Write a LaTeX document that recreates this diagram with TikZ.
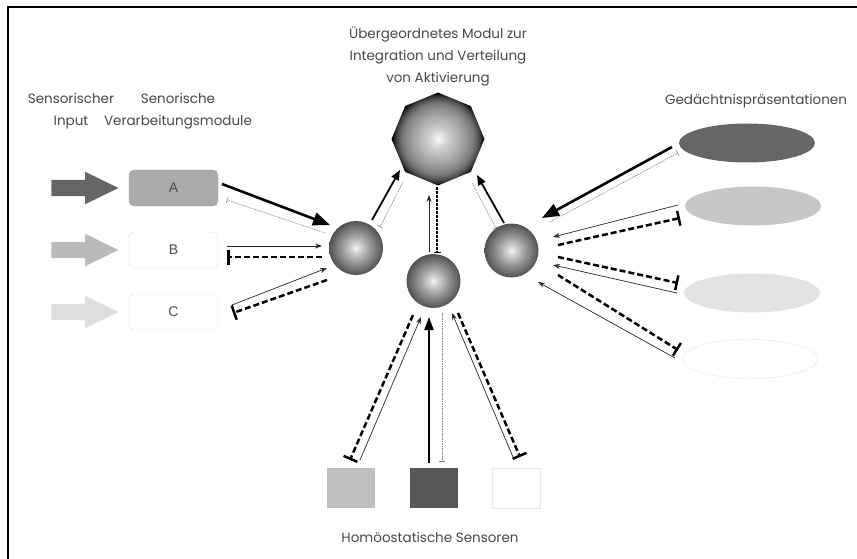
\documentclass[tikz,border=0pt]{standalone}
\usepackage{fontspec}
\setmainfont{Poppins}
\newfontfamily\boxfont{Liberation Sans}
\usepackage{tikz}
\usetikzlibrary{shapes,shapes.geometric,shapes.arrows,arrows.meta,calc}
\pgfdeclareradialshading{sphshade}{\pgfpoint{0bp}{0bp}}{color(0bp)=(black!3); color(3bp)=(black!14); color(13bp)=(black!40); color(25bp)=(black!68); color(50bp)=(black!68)}
\pgfdeclareradialshading{octshade}{\pgfpoint{0bp}{0bp}}{color(0bp)=(black!2); color(5bp)=(black!18); color(14bp)=(black!38); color(19bp)=(black!52); color(22bp)=(black!70); color(25bp)=(black); color(50bp)=(black)}
\tikzset{
  sph/.style={ circle, minimum size=54pt, inner sep=0pt, shading=sphshade }
}
\tikzset{
  octmod/.style={ regular polygon, regular polygon sides=8, shape border rotate=22.5, minimum size=93pt, inner sep=0pt, shading=octshade }
}
\tikzset{
  boxmod/.style={ draw, rounded corners=5pt, minimum width=89pt, minimum height=36pt, inner sep=0pt, font=\boxfont\fontsize{14}{16}\selectfont, text=black!70 }
}
\tikzset{
  ellmem/.style={ ellipse, minimum width=136pt, minimum height=39pt, inner sep=0pt }
}
\tikzset{
  sqsens/.style={ minimum width=48pt, minimum height=40pt, inner sep=0pt }
}
\tikzset{
  bigarr/.style={ single arrow, minimum height=67pt, minimum width=0pt, inner xsep=0pt, inner ysep=8pt, single arrow head extend=8pt, single arrow tip angle=52 }
}
\tikzset{
  lbl/.style={ align=center, text=black!72, font=\fontsize{13.5}{22}\selectfont }
}
% connector styles
\tikzset{
  exc/.style={ black!85, line width=0.7pt, -{Stealth[length=7pt,width=5pt]} },
  excmid/.style={ black, line width=1.8pt, -{Triangle[length=10pt,width=8pt]} },
  excbig/.style={ black, line width=2.6pt, -{Triangle[length=17pt,width=13pt]} },
  inh/.style={ black, line width=2.5pt, dash pattern=on 6pt off 3pt, -{Bar[width=15pt]} },
  inhthin/.style={ black!50, line width=0.6pt, dash pattern=on 1.5pt off 1pt, -{Bar[width=6pt]} }
}

\begin{document}
\begin{tikzpicture}[x=1pt, y=-1pt]
      \useasboundingbox (0,0) rectangle (857,559);
      \draw[line width=2.5pt] (8,559) -- (8,7) -- (857,7);

      % labels
      \node[lbl] (tOct) at (438, 56) {Übergeordnetes Modul zur\\Integration und Verteilung\\von Aktivierung};
      \node[lbl] (tIn) at (71, 111) {Sensorischer\\Input};
      \node[lbl] (tMod) at (178, 111) {Senorische\\Verarbeitungsmodule};
      \node[lbl] (tMem) at (756, 101) {Gedächtnispräsentationen};
      \node[lbl] (tSens) at (430, 537) {Homöostatische Sensoren};

      % sensory input
      \node[bigarr, fill=black!60] (inA) at (76.5, 188) {};
      \node[bigarr, fill=black!27] (inB) at (76.5, 250) {};
      \node[bigarr, fill=black!13] (inC) at (76.5, 312) {};
      \node[boxmod, fill=black!33, draw=black!33] (boxA) at (173.5, 188) {A};
      \node[boxmod, fill=white, draw=black!13] (boxB) at (173.5, 250) {B};
      \node[boxmod, fill=white, draw=black!13] (boxC) at (173.5, 312) {C};

      % integration
      \node[octmod] (oct) at (438, 139) {};
      \node[sph] (ballL) at (356, 248) {};
      \node[sph] (ballM) at (433.5, 281) {};
      \node[sph] (ballR) at (511.5, 250.5) {};

      % memory
      \node[ellmem, fill=black!60] (memA) at (747, 143) {};
      \node[ellmem, fill=black!22] (memB) at (753, 206) {};
      \node[ellmem, fill=black!11] (memC) at (752, 293) {};
      \node[ellmem, fill=white, draw=black!10] (memD) at (750, 359) {};

      % homeostatic sensors
      \node[sqsens, fill=black!25] (sensA) at (350.5, 488) {};
      \node[sqsens, fill=black!66] (sensB) at (433.5, 488) {};
      \node[sqsens, fill=white, draw=black!10] (sensC) at (516.5, 488) {};

      \draw[excbig] ($(boxA)+(48.5,-4)$) -- ($(ballL)+(-26,-23)$);
      \draw[inhthin] ($(ballL)+(-31,-15)$) -- ($(boxA)+(53.5,12)$);
      \draw[exc] ($(boxB)+(53.5,-4)$) -- ($(ballL)+(-34,-2)$);
      \draw[inh] ($(ballL)+(-34,9)$) -- ($(boxB)+(53.5,7)$);
      \draw[exc] ($(boxC)+(58.5,-7)$) -- ($(ballL)+(-29,20)$);
      \draw[inh] ($(ballL)+(-29,32)$) -- ($(boxC)+(59.5,1)$);

      \draw[excmid] ($(ballL)+(16,-28)$) -- ($(oct)+(-38,31)$);
      \draw[inhthin] ($(oct)+(-35,43)$) -- ($(ballL)+(24,-21)$);
      \draw[exc] ($(ballM)+(-4.5,-29)$) -- ($(oct)+(-9,56)$);
      \draw[black, line width=1.3pt, dash pattern=on 2.5pt off 1.5pt, -{Bar[width=7pt]}] ($(oct)+(-1,48)$) -- ($(ballM)+(3.5,-28)$);
      \draw[excmid] ($(ballR)+(-7.5,-27.5)$) -- ($(oct)+(39,36)$);
      \draw[inhthin] ($(oct)+(34,44)$) -- ($(ballR)+(-15.5,-22.5)$);

      \draw[excbig] ($(memA)+(-75,4)$) -- ($(ballR)+(30.5,-32.5)$);
      \draw[inhthin] ($(ballR)+(38.5,-28.5)$) -- ($(memA)+(-69,10)$);
      \draw[exc] ($(memB)+(-75,-1)$) -- ($(ballR)+(41.5,-13.5)$);
      \draw[inh] ($(ballR)+(46.5,-5.5)$) -- ($(memB)+(-73,12)$);
      \draw[inh] ($(ballR)+(46.5,6.5)$) -- ($(memC)+(-74,-10)$);
      \draw[exc] ($(memC)+(-75,0)$) -- ($(ballR)+(41.5,14.5)$);
      \draw[inh] ($(ballR)+(46.5,24.5)$) -- ($(memD)+(-72,-9)$);
      \draw[exc] ($(memD)+(-75,-1)$) -- ($(ballR)+(26.5,31.5)$);

      \draw[inh] ($(ballM)+(-20.5,34)$) -- ($(sensA)+(-0.5,-28)$);
      \draw[exc] ($(sensA)+(9.5,-28)$) -- ($(ballM)+(-12.5,36)$);
      \draw[black, line width=2pt, -{Triangle[length=13pt,width=9pt]}] ($(sensB)+(-4.5,-25)$) -- ($(ballM)+(-4.5,36)$);
      \draw[inhthin] ($(ballM)+(8.5,32)$) -- ($(sensB)+(8.5,-26)$);
      \draw[exc] ($(sensC)+(-3.5,-31)$) -- ($(ballM)+(18.5,32)$);
      \draw[inh] ($(ballM)+(24.5,32)$) -- ($(sensC)+(3.5,-31)$);
    \end{tikzpicture}
\end{document}
